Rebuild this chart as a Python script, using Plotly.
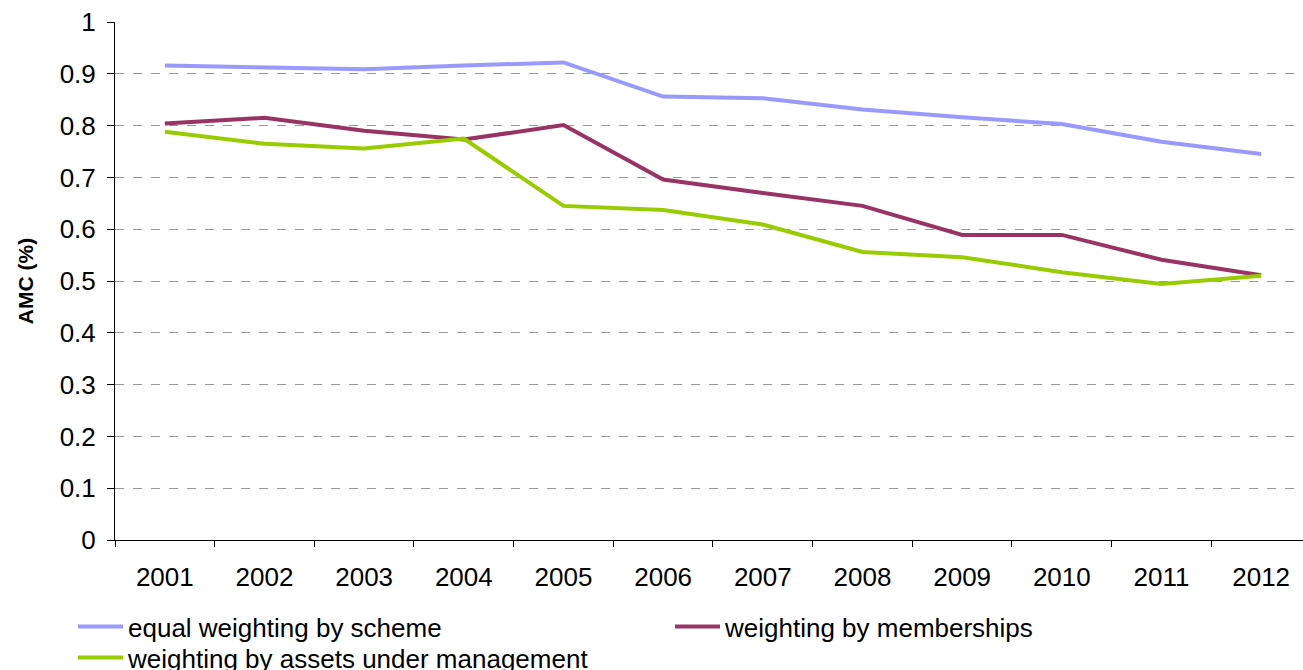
import plotly.graph_objects as go

years = ["2001", "2002", "2003", "2004", "2005", "2006", "2007", "2008", "2009", "2010", "2011", "2012"]
equal_scheme = [0.916, 0.913, 0.909, 0.916, 0.922, 0.856, 0.853, 0.831, 0.816, 0.803, 0.769, 0.745]
memberships = [0.804, 0.815, 0.790, 0.773, 0.801, 0.696, 0.670, 0.645, 0.589, 0.589, 0.541, 0.511]
assets = [0.788, 0.765, 0.756, 0.775, 0.645, 0.637, 0.609, 0.556, 0.546, 0.517, 0.494, 0.510]
y_ticks = [0, 0.1, 0.2, 0.3, 0.4, 0.5, 0.6, 0.7, 0.8, 0.9, 1]
y_ticklabels = ["0", "0.1", "0.2", "0.3", "0.4", "0.5", "0.6", "0.7", "0.8", "0.9", "1"]

FONT = "Liberation Sans, Arial, sans-serif"

fig = go.Figure()
fig.add_trace(go.Scatter(x=years, y=equal_scheme, mode="lines", name="equal weighting by scheme",
                         line=dict(color="#9999FF", width=4), legend="legend"))
fig.add_trace(go.Scatter(x=years, y=memberships, mode="lines", name="weighting by memberships",
                         line=dict(color="#993366", width=4), legend="legend3"))
fig.add_trace(go.Scatter(x=years, y=assets, mode="lines", name="weighting by assets under management",
                         line=dict(color="#99CC00", width=4), legend="legend2"))

leg_common = dict(orientation="h", xref="container", yref="container", xanchor="left", yanchor="top",
                  font=dict(size=26), itemwidth=45, bgcolor="rgba(0,0,0,0)",
                  borderwidth=0, traceorder="normal")

fig.update_layout(
    width=1303, height=670,
    margin=dict(l=115, r=0, t=22, b=130),
    paper_bgcolor="white", plot_bgcolor="white",
    font=dict(family=FONT, size=26, color="black"),
    showlegend=True,
    legend=dict(x=73 / 1303, y=(670 - 603) / 670, **leg_common),
    legend3=dict(x=670 / 1303, y=(670 - 603) / 670, **leg_common),
    legend2=dict(x=73 / 1303, y=(670 - 634) / 670, **leg_common),
    xaxis=dict(type="category", range=[-0.5, 11.42], showgrid=False,
               showline=True, linecolor="black", linewidth=1,
               ticks="outside", tickson="boundaries", ticklen=6, tickcolor="black",
               tickfont=dict(size=26), zeroline=False, ticklabelstandoff=14),
    yaxis=dict(range=[0, 1], tickvals=y_ticks, ticktext=y_ticklabels,
               showline=True, linecolor="black", linewidth=1,
               ticks="outside", ticklen=7, tickcolor="black",
               showgrid=True, gridcolor="#999999", griddash="dash", gridwidth=1,
               zeroline=False, tickfont=dict(size=26), ticklabelstandoff=6,
               title=dict(text="<b>AMC (%)</b>", font=dict(size=21), standoff=20)),
)

fig.write_html("out.html", config={"displayModeBar": False},
               post_script="document.body.style.margin='0';document.body.style.overflow='hidden';")
